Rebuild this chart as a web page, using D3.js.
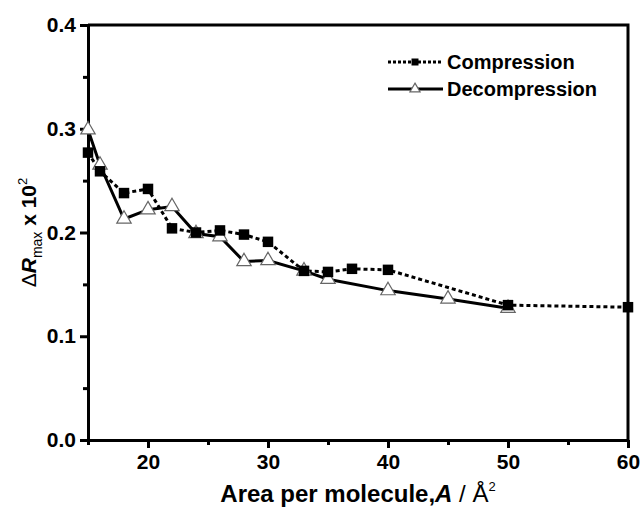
<!DOCTYPE html>
<html lang="en">
<head>
<meta charset="UTF-8">
<title>Delta R max vs area per molecule</title>
<script src="https://d3js.org/d3.v7.min.js"></script>
<style>
    body { margin: 0; background: #fff; }
    svg { font-family: "Liberation Sans", Arial, sans-serif; font-weight: bold; }
    .axis text { font-size: 21px; font-weight: bold; fill: #000; }
    .axis path, .axis line { stroke: #000; stroke-width: 3; }
</style>
</head>
<body>
<svg width="642" height="509"></svg>
<script>
    // Compression isotherm (filled squares, dotted)
    const compArea = [15, 16, 18, 20, 22, 24, 26, 28, 30, 33, 35, 37, 40, 50, 60];
    const compValue = [0.277, 0.259, 0.238, 0.242, 0.204, 0.200, 0.202, 0.198, 0.191, 0.163, 0.162, 0.165, 0.164, 0.130, 0.128];

    // Decompression (open triangles, solid)
    const decArea = [15, 16, 18, 20, 22, 24, 26, 28, 30, 33, 35, 40, 45, 50];
    const decValue = [0.299, 0.265, 0.213, 0.222, 0.225, 0.199, 0.196, 0.172, 0.173, 0.163, 0.155, 0.144, 0.136, 0.127];

    const xTicks = [20, 30, 40, 50, 60];
    const xMinor = [15, 25, 35, 45, 55];
    const yTicks = [0.0, 0.1, 0.2, 0.3, 0.4];
    const yMinor = [0.05, 0.15, 0.25, 0.35];

    const margin = { top: 25, right: 14, bottom: 69, left: 88 };
    const width = 642, height = 509;

    const svg = d3.select("svg");

    const x = d3.scaleLinear().domain([15, 60]).range([margin.left, width - margin.right]);
    const y = d3.scaleLinear().domain([0, 0.4]).range([height - margin.bottom, margin.top]);

    const comp = compArea.map((a, i) => ({ a: a, v: compValue[i] }));
    const dec = decArea.map((a, i) => ({ a: a, v: decValue[i] }));

    // frame (top and right)
    svg.append("path")
        .attr("d", `M${x(15)},${y(0.4)}H${x(60)}V${y(0)}`)
        .attr("fill", "none")
        .attr("stroke", "#000")
        .attr("stroke-width", 3);

    // minor ticks
    svg.append("g")
        .attr("class", "axis")
        .attr("transform", `translate(0,${y(0)})`)
        .call(d3.axisBottom(x).tickValues(xMinor).tickSize(5).tickFormat(""))
        .call(g => g.select(".domain").remove());

    svg.append("g")
        .attr("class", "axis")
        .attr("transform", `translate(${x(15)},0)`)
        .call(d3.axisLeft(y).tickValues(yMinor).tickSize(5).tickFormat(""))
        .call(g => g.select(".domain").remove());

    // major axes
    svg.append("g")
        .attr("class", "axis")
        .attr("transform", `translate(0,${y(0)})`)
        .call(d3.axisBottom(x).tickValues(xTicks).tickSize(8).tickSizeOuter(0).tickPadding(6))
        .call(g => g.selectAll("text").attr("dy", "0.72em"));

    svg.append("g")
        .attr("class", "axis")
        .attr("transform", `translate(${x(15)},0)`)
        .call(d3.axisLeft(y).tickValues(yTicks).tickSize(8).tickSizeOuter(0).tickPadding(4)
            .tickFormat(d3.format(".1f")));

    // lines
    const line = d3.line().x(d => x(d.a)).y(d => y(d.v));

    svg.append("path")
        .datum(dec)
        .attr("d", line)
        .attr("fill", "none")
        .attr("stroke", "#000")
        .attr("stroke-width", 3);

    svg.append("path")
        .datum(comp)
        .attr("d", line)
        .attr("fill", "none")
        .attr("stroke", "#000")
        .attr("stroke-width", 3)
        .attr("stroke-dasharray", "4,3");

    const tri = d3.symbol().type(d3.symbolTriangle).size(90);
    const sq = d3.symbol().type(d3.symbolSquare).size(110);

    svg.selectAll(".tri")
        .data(dec)
        .join("path")
        .attr("class", "tri")
        .attr("transform", d => `translate(${x(d.a)},${y(d.v)})`)
        .attr("d", tri)
        .attr("fill", "#fff")
        .attr("stroke", "#666")
        .attr("stroke-width", 1.2);

    svg.selectAll(".sq")
        .data(comp)
        .join("path")
        .attr("class", "sq")
        .attr("transform", d => `translate(${x(d.a)},${y(d.v)})`)
        .attr("d", sq)
        .attr("fill", "#000");

    // legend
    const legend = svg.append("g").attr("transform", "translate(388,62)");
    legend.append("line")
        .attr("x1", 0).attr("x2", 55).attr("y1", 0).attr("y2", 0)
        .attr("stroke", "#000").attr("stroke-width", 3).attr("stroke-dasharray", "3,2");
    legend.append("path")
        .attr("transform", "translate(27,0)")
        .attr("d", d3.symbol().type(d3.symbolSquare).size(49))
        .attr("fill", "#000");
    legend.append("text")
        .attr("x", 59).attr("y", 0).attr("dy", "0.35em")
        .style("font-size", "20px")
        .text("Compression");

    legend.append("line")
        .attr("x1", 0).attr("x2", 55).attr("y1", 27).attr("y2", 27)
        .attr("stroke", "#000").attr("stroke-width", 3);
    legend.append("path")
        .attr("transform", "translate(27,27)")
        .attr("d", d3.symbol().type(d3.symbolTriangle).size(45))
        .attr("fill", "#fff").attr("stroke", "#666").attr("stroke-width", 1.2);
    legend.append("text")
        .attr("x", 59).attr("y", 27).attr("dy", "0.35em")
        .style("font-size", "20px")
        .text("Decompression");

    // x title
    const xt = svg.append("text")
        .attr("x", (x(15) + x(60)) / 2)
        .attr("y", 502)
        .attr("text-anchor", "middle")
        .style("font-size", "24px");
    xt.append("tspan").text("Area per molecule,");
    xt.append("tspan").style("font-style", "italic").text("A");
    xt.append("tspan").style("font-weight", "normal").text(" / Å");
    xt.append("tspan").attr("dy", "-11").style("font-size", "13px").style("font-weight", "normal").text("2");

    // y title
    const yt = svg.append("text")
        .attr("transform", `translate(36,${(y(0) + y(0.4)) / 2}) rotate(-90)`)
        .attr("text-anchor", "middle")
        .style("font-size", "21px");
    yt.append("tspan").style("font-weight", "normal").text("Δ");
    yt.append("tspan").style("font-style", "italic").text("R");
    yt.append("tspan").attr("dy", "6").style("font-size", "14px").style("font-weight", "normal").text("max");
    yt.append("tspan").attr("dy", "-6").text(" x 10");
    yt.append("tspan").attr("dy", "-9").style("font-size", "13px").style("font-weight", "normal").text("2");
</script>
</body>
</html>
